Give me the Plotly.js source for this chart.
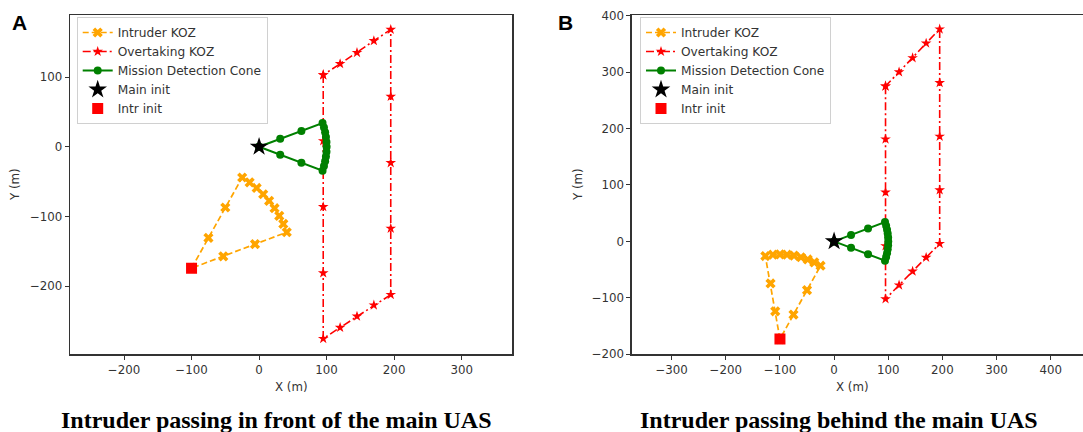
<!DOCTYPE html>
<html>
<head>
<meta charset="utf-8">
<script src="https://cdn.plot.ly/plotly-3.0.1.min.js"></script>
<style>
  html, body { margin: 0; padding: 0; background: #fff; }
  #chart { width: 1083px; height: 432px; }
</style>
</head>
<body>
<div id="chart"></div>
<script>
// Panel A: intruder passing in front of the main UAS
const intruderA_x = [-100, -75, -50, -25, -14, -3.6, 6.1, 14.9, 22.9, 29.9, 35.9, 41, -6, -53, -100];
const intruderA_y = [-174, -130.5, -87, -44, -51, -59, -68, -77.5, -88, -99, -110.5, -122.5, -139.5, -157, -174];
const overtakeA_x = [95, 95, 95, 95, 95, 120, 145, 170, 195, 195, 195, 195, 195, 170, 145, 120, 95];
const overtakeA_y = [103, 8.5, -86, -181, -275, -259, -243, -227, -212, -117, -23, 72, 168, 152, 135, 119, 103];
const intrInitA_x = [-100];
const intrInitA_y = [-174];

// Panel B: intruder passing behind the main UAS
const intruderB_x = [-100, -108.7, -117.4, -127, -113.1, -100, -86.9, -74, -61.2, -48.7, -36.6, -25, -50, -75, -100];
const intruderB_y = [-173, -123.8, -74.5, -26, -23.6, -23, -23.6, -25.3, -28.1, -32, -37.1, -43.1, -86.4, -129.7, -173];
const overtakeB_x = [95, 95, 95, 95, 95, 120, 145, 170, 195, 195, 195, 195, 195, 170, 145, 120, 95];
const overtakeB_y = [275, 181, 87, -8, -102, -77.5, -53, -28.5, -4, 91, 186, 281, 376, 351, 325, 300, 275];
const intrInitB_x = [-100];
const intrInitB_y = [-173];

// Detection cone of the main UAS (same in both panels)
const cone_x = [0, 31.3, 62.7, 94.0, 96.1, 97.8, 99.0, 99.8, 100, 99.8, 99.0, 97.8, 96.1, 94.0, 62.7, 31.3, 0];
const cone_y = [0, 11.4, 22.8, 34.2, 27.6, 20.8, 13.9, 7.0, 0, -7.0, -13.9, -20.8, -27.6, -34.2, -22.8, -11.4, 0];
const mainInit_x = [0];
const mainInit_y = [0];

// Axis ticks
const ticksA_x = [-200, -100, 0, 100, 200, 300];
const ticksA_y = [-200, -100, 0, 100];
const ticksB_x = [-300, -200, -100, 0, 100, 200, 300, 400];
const ticksB_y = [-200, -100, 0, 100, 200, 300, 400];

const seriesNames = ['Intruder KOZ', 'Overtaking KOZ', 'Mission Detection Cone', 'Main init', 'Intr init'];
const captions = ['Intruder passing in front of the main UAS', 'Intruder passing behind the main UAS'];
const panelLetters = ['A', 'B'];

const ORANGE = '#FFA500', RED = '#FF0000', GREEN = '#008000';
const FONT = 'DejaVu Sans, sans-serif';
const AXC = '#333333';

function panelTraces(ix, iy, ox, oy, px, py, xa, ya, lg) {
  return [
    { x: ix, y: iy, xaxis: xa, yaxis: ya, legend: lg, name: seriesNames[0], type: 'scatter', mode: 'lines+markers',
      line: { color: ORANGE, width: 1.7, dash: '6px,3px' },
      marker: { symbol: 'x', size: 9, color: ORANGE, line: { width: 0 } } },
    { x: ox, y: oy, xaxis: xa, yaxis: ya, legend: lg, name: seriesNames[1], type: 'scatter', mode: 'lines+markers',
      line: { color: RED, width: 1.6, dash: '8px,3px,2px,3px' },
      marker: { symbol: 'star', size: 8, color: RED, line: { width: 0 } } },
    { x: cone_x, y: cone_y, xaxis: xa, yaxis: ya, legend: lg, name: seriesNames[2], type: 'scatter', mode: 'lines+markers',
      line: { color: GREEN, width: 2 },
      marker: { symbol: 'circle', size: 8, color: GREEN, line: { width: 0 } } },
    { x: mainInit_x, y: mainInit_y, xaxis: xa, yaxis: ya, legend: lg, name: seriesNames[3], type: 'scatter', mode: 'markers',
      marker: { symbol: 'star', size: 14, color: '#000', line: { width: 0 } } },
    { x: px, y: py, xaxis: xa, yaxis: ya, legend: lg, name: seriesNames[4], type: 'scatter', mode: 'markers',
      marker: { symbol: 'square', size: 11, color: RED, line: { width: 0 } } }
  ];
}

const data = [].concat(
  panelTraces(intruderA_x, intruderA_y, overtakeA_x, overtakeA_y, intrInitA_x, intrInitA_y, 'x', 'y', 'legend'),
  panelTraces(intruderB_x, intruderB_y, overtakeB_x, overtakeB_y, intrInitB_x, intrInitB_y, 'x2', 'y2', 'legend2')
);

const W = 1083, H = 432;
const px2x = p => p / W;
const px2y = p => (H - p) / H;

function axis(extra) {
  return Object.assign({
    showgrid: false, zeroline: false, showline: true, linecolor: AXC, linewidth: 1.3,
    ticks: 'outside', ticklen: 4, tickwidth: 1, tickcolor: AXC, tickmode: 'array',
    tickfont: { family: FONT, size: 11.8, color: AXC }, fixedrange: true
  }, extra);
}

const legendStyle = {
  xanchor: 'left', yanchor: 'top', bgcolor: 'rgba(255,255,255,0.8)', bordercolor: '#d0d0d0', borderwidth: 1,
  font: { family: FONT, size: 12.2, color: AXC }, tracegroupgap: 0, itemclick: false
};

const layout = {
  width: W, height: H,
  margin: { l: 0, r: 0, t: 0, b: 0 },
  paper_bgcolor: '#fff', plot_bgcolor: '#fff',
  hovermode: false,
  xaxis: axis({ domain: [px2x(70), px2x(512.3)], range: [-280, 375], tickvals: ticksA_x, anchor: 'y', mirror: true }),
  yaxis: axis({ domain: [px2y(354.3), px2y(15)], range: [-297.4, 188.9], tickvals: ticksA_y, anchor: 'x', mirror: true }),
  xaxis2: axis({ domain: [px2x(631.7), 1], range: [-373.8, 459.7], tickvals: ticksB_x, anchor: 'y2', mirror: true }),
  yaxis2: axis({ domain: [px2y(354.3), px2y(15)], range: [-200, 401], tickvals: ticksB_y, anchor: 'x2', mirror: false }),
  legend: Object.assign({ x: px2x(76.7), y: px2y(17) }, legendStyle),
  legend2: Object.assign({ x: px2x(640), y: px2y(17) }, legendStyle),
  annotations: [
    { text: 'X (m)', xref: 'paper', yref: 'paper', x: px2x(291), y: px2y(387), xanchor: 'center', yanchor: 'middle', showarrow: false,
      font: { family: FONT, size: 11.8, color: AXC } },
    { text: 'X (m)', xref: 'paper', yref: 'paper', x: px2x(852), y: px2y(387), xanchor: 'center', yanchor: 'middle', showarrow: false,
      font: { family: FONT, size: 11.8, color: AXC } },
    { text: 'Y (m)', xref: 'paper', yref: 'paper', x: px2x(15), y: px2y(185), xanchor: 'center', yanchor: 'middle', showarrow: false, textangle: -90,
      font: { family: FONT, size: 11.8, color: AXC } },
    { text: 'Y (m)', xref: 'paper', yref: 'paper', x: px2x(578), y: px2y(185), xanchor: 'center', yanchor: 'middle', showarrow: false, textangle: -90,
      font: { family: FONT, size: 11.8, color: AXC } },
    { text: '<b>' + panelLetters[0] + '</b>', xref: 'paper', yref: 'paper', x: px2x(19), y: px2y(22.5), xanchor: 'center', yanchor: 'middle', showarrow: false,
      font: { family: 'Liberation Sans, Arial, sans-serif', size: 21, color: '#000' } },
    { text: '<b>' + panelLetters[1] + '</b>', xref: 'paper', yref: 'paper', x: px2x(565.5), y: px2y(22.5), xanchor: 'center', yanchor: 'middle', showarrow: false,
      font: { family: 'Liberation Sans, Arial, sans-serif', size: 21, color: '#000' } },
    { text: '<b>' + captions[0] + '</b>', xref: 'paper', yref: 'paper', x: px2x(276), y: px2y(420), xanchor: 'center', yanchor: 'middle', showarrow: false,
      font: { family: 'Liberation Serif, Times New Roman, serif', size: 24, color: '#000' } },
    { text: '<b>' + captions[1] + '</b>', xref: 'paper', yref: 'paper', x: px2x(838.5), y: px2y(420), xanchor: 'center', yanchor: 'middle', showarrow: false,
      font: { family: 'Liberation Serif, Times New Roman, serif', size: 24, color: '#000' } }
  ]
};

Plotly.newPlot('chart', data, layout, { displayModeBar: false, staticPlot: true });
</script>
</body>
</html>
